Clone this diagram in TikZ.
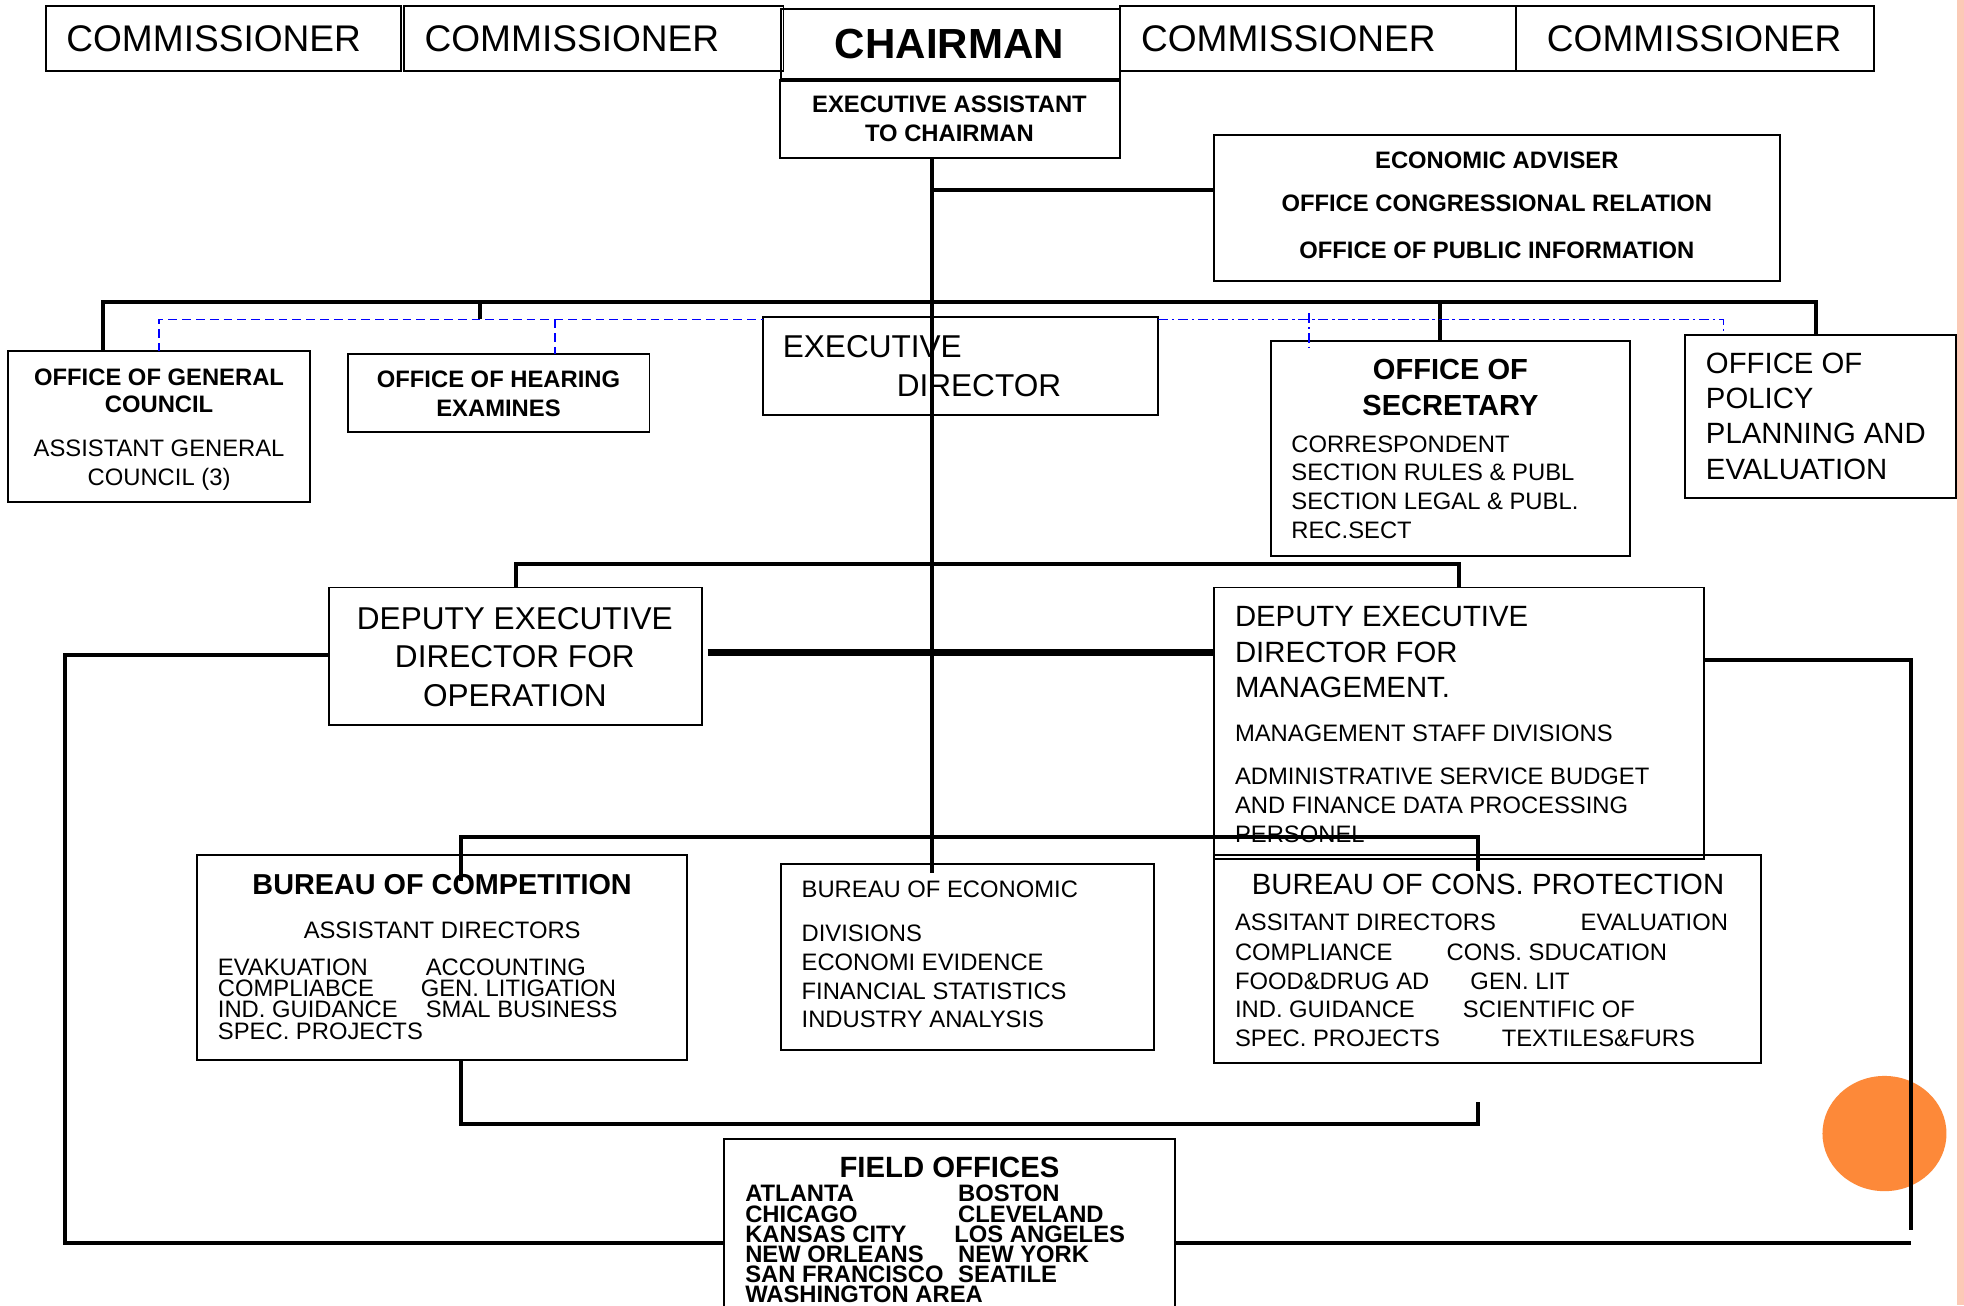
\documentclass[tikz,border=0pt]{standalone}
\usepackage{fontspec}
\setmainfont{Liberation Sans}
\usetikzlibrary{calc}
\definecolor{dotorange}{RGB}{253,137,57}
\definecolor{stripe}{RGB}{252,201,182}
\definecolor{dashblue}{RGB}{0,0,255}
\newcommand\fsz[1]{\fontsize{#1}{#1}\selectfont}
\newcommand\bx[5]{%
  \pgfmathsetmacro\bxw{(#4-#2)*0.5}%
  \pgfmathsetmacro\bxh{(#5-#3)*0.5}%
  \node[orgbox, minimum width=\bxw pt, minimum height=\bxh pt] (#1) at (#2,#3) {};}
\newcommand\twocol[3]{\makebox[#1][l]{#2}#3}
\begin{document}
\begin{tikzpicture}[x=0.5pt,y=-0.5pt,
  orgbox/.style={draw=black, line width=0.75pt, inner sep=0pt, outer sep=0pt, anchor=north west},
  txt/.style={inner sep=0pt, outer sep=0pt, text depth=0pt},
  reg/.style={txt, font=\fsz{9.5}},
  bld/.style={txt, font=\bfseries\fsz{9.5}},
  conn/.style={draw=black, line width=1.6pt},
  heavy/.style={draw=black, line width=2.6pt},
  blued/.style={draw=dashblue, line width=0.6pt, dash pattern=on 3.5pt off 2pt},
  bluedd/.style={draw=dashblue, line width=0.6pt, dash pattern=on 4pt off 1.5pt on 1pt off 1.5pt}]

\fill[white] (0,0) rectangle (1568,1042);
\useasboundingbox (0,0) rectangle (1568,1042);
\fill[stripe] (1562,0) rectangle (1568,1042);
\fill[dotorange] (1504.5,905) ellipse [x radius=24.75pt, y radius=23pt];

% ---------- boxes ----------
\bx{c1}{37}{5}{320}{57}
\bx{c2}{322.5}{5}{625.5}{57}
\bx{ch}{623.5}{7}{894}{64}
\bx{ea}{622.5}{64}{894}{126}
\bx{c3}{894}{5}{1210}{57}
\bx{c4}{1210}{5}{1496}{57}
\bx{eco}{969}{108}{1421}{224}
\bx{gc}{6.5}{280.5}{247.5}{401}
\bx{he}{277.5}{282.5}{518.5}{345}
\bx{ed}{609}{253}{924.5}{331.5}
\bx{sec}{1014.5}{272.5}{1301}{444}
\bx{pol}{1345.5}{267.5}{1561.5}{397.5}
\bx{dop}{262.5}{469}{560.5}{578.5}
\bx{dm}{969.5}{469}{1360.5}{686}
\bx{bc}{157}{682.5}{548.5}{846}
\bx{be}{623.5}{690}{921.5}{838.5}
\bx{bp}{969}{682.5}{1406}{849}
\bx{fo}{578}{909.5}{938}{1080}
\draw[line width=1.4pt] (ea.north west) -- (ea.north east);

% ---------- texts ----------
\node[txt, anchor=west, font=\fsz{14.8}] (c1t) at (53,31) {COMMISSIONER};
\node[txt, anchor=west, font=\fsz{14.8}] (c2t) at (339,31) {COMMISSIONER};
\node[txt, anchor=west, font=\fsz{14.8}] (c3t) at (911,31) {COMMISSIONER};
\node[txt, anchor=west, font=\fsz{14.8}] (c4t) at (1235,31) {COMMISSIONER};
\node[txt, font=\bfseries\fsz{16.8}] (cht) at (758,35) {CHAIRMAN};
\node[bld] (ea1) at (758,83) {EXECUTIVE ASSISTANT};
\node[bld] (ea2) at (758,106) {TO CHAIRMAN};

\node[bld] (eco1) at (1195,128) {ECONOMIC ADVISER};
\node[bld] (eco2) at (1195,162) {OFFICE CONGRESSIONAL RELATION};
\node[bld] (eco3) at (1195,200) {OFFICE OF PUBLIC INFORMATION};

\node[bld] (gc1) at (127,301) {OFFICE OF GENERAL};
\node[bld] (gc2) at (127,323) {COUNCIL};
\node[reg] (gc3) at (127,358) {ASSISTANT GENERAL};
\node[reg] (gc4) at (127,381) {COUNCIL (3)};

\node[bld] (he1) at (398,303) {OFFICE OF HEARING};
\node[bld] (he2) at (398,326) {EXAMINES};

\node[txt, anchor=west, font=\fsz{12.6}] (ed1) at (625,277) {EXECUTIVE};
\node[txt, anchor=west, font=\fsz{12.6}] (ed2) at (716,308) {DIRECTOR};

\node[txt, font=\bfseries\fsz{11.6}] (sec1) at (1158,295) {OFFICE OF};
\node[txt, font=\bfseries\fsz{11.6}] (sec2) at (1158,324) {SECRETARY};
\node[reg, anchor=west] (sec3) at (1031,355) {CORRESPONDENT};
\node[reg, anchor=west] (sec4) at (1031,377) {SECTION RULES \& PUBL};
\node[reg, anchor=west] (sec5) at (1031,400) {SECTION LEGAL \& PUBL.};
\node[reg, anchor=west] (sec6) at (1031,423) {REC.SECT};

\node[txt, anchor=west, font=\fsz{11.7}] (pol1) at (1362,290) {OFFICE OF};
\node[txt, anchor=west, font=\fsz{11.7}] (pol2) at (1362,318) {POLICY};
\node[txt, anchor=west, font=\fsz{11.7}] (pol3) at (1362,346) {PLANNING AND};
\node[txt, anchor=west, font=\fsz{11.7}] (pol4) at (1362,375) {EVALUATION};

\node[txt, font=\fsz{12.6}] (dop1) at (411,494) {DEPUTY EXECUTIVE};
\node[txt, font=\fsz{12.6}] (dop2) at (411,524) {DIRECTOR FOR};
\node[txt, font=\fsz{12.6}] (dop3) at (411,555) {OPERATION};

\node[txt, anchor=west, font=\fsz{11.7}] (dm1) at (986,492) {DEPUTY EXECUTIVE};
\node[txt, anchor=west, font=\fsz{11.7}] (dm2) at (986,521) {DIRECTOR FOR};
\node[txt, anchor=west, font=\fsz{11.7}] (dm3) at (986,549) {MANAGEMENT.};
\node[reg, anchor=west] (dm4) at (986,585) {MANAGEMENT STAFF DIVISIONS};
\node[reg, anchor=west] (dm5) at (986,620) {ADMINISTRATIVE SERVICE BUDGET};
\node[reg, anchor=west] (dm6) at (986,643) {AND FINANCE DATA PROCESSING};
\node[reg, anchor=west] (dm7) at (986,666) {PERSONEL};

\node[txt, font=\bfseries\fsz{11.5}] (bc1) at (353,706) {BUREAU OF COMPETITION};
\node[reg] (bc2) at (353,743) {ASSISTANT DIRECTORS};
\node[reg, anchor=west] (bc3) at (174,772) {\twocol{83pt}{EVAKUATION}{ACCOUNTING}};
\node[reg, anchor=west] (bc4) at (174,789) {\twocol{81pt}{COMPLIABCE}{GEN. LITIGATION}};
\node[reg, anchor=west] (bc5) at (174,806) {\twocol{83pt}{IND. GUIDANCE}{SMAL BUSINESS}};
\node[reg, anchor=west] (bc6) at (174,823) {SPEC. PROJECTS};

\node[reg, anchor=west] (be1) at (640,710) {BUREAU OF ECONOMIC};
\node[reg, anchor=west] (be2) at (640,745) {DIVISIONS};
\node[reg, anchor=west] (be3) at (640,768) {ECONOMI EVIDENCE};
\node[reg, anchor=west] (be4) at (640,791) {FINANCIAL STATISTICS};
\node[reg, anchor=west] (be5) at (640,814) {INDUSTRY ANALYSIS};

\node[txt, font=\fsz{11.7}] (bp1) at (1188,706) {BUREAU OF CONS. PROTECTION};
\node[reg, anchor=west] (bp2) at (986,736) {\twocol{138pt}{ASSITANT DIRECTORS}{EVALUATION}};
\node[reg, anchor=west] (bp3) at (986,760) {\twocol{84.5pt}{COMPLIANCE}{CONS. SDUCATION}};
\node[reg, anchor=west] (bp4) at (986,783) {\twocol{94pt}{FOOD\&DRUG AD}{GEN. LIT}};
\node[reg, anchor=west] (bp5) at (986,806) {\twocol{91pt}{IND. GUIDANCE}{SCIENTIFIC OF}};
\node[reg, anchor=west] (bp6) at (986,829) {\twocol{106.5pt}{SPEC. PROJECTS}{TEXTILES\&FURS}};

\node[txt, font=\bfseries\fsz{11.7}] (fo1) at (758,932) {FIELD OFFICES};
\node[bld, anchor=west] (fo2) at (595,953) {\twocol{85pt}{ATLANTA}{BOSTON}};
\node[bld, anchor=west] (fo3) at (595,969) {\twocol{85pt}{CHICAGO}{CLEVELAND}};
\node[bld, anchor=west] (fo4) at (595,985) {\twocol{83.5pt}{KANSAS CITY}{LOS ANGELES}};
\node[bld, anchor=west] (fo5) at (595,1001) {\twocol{85pt}{NEW ORLEANS}{NEW YORK}};
\node[bld, anchor=west] (fo6) at (595,1017) {\twocol{85pt}{SAN FRANCISCO}{SEATILE}};
\node[bld, anchor=west] (fo7) at (595,1033) {WASHINGTON AREA};

% ---------- connectors ----------
\coordinate (mvEnd) at (744,697);
\draw[conn] (ea.south -| mvEnd) -- (mvEnd);
\coordinate (jEco) at (744,152);
\draw[conn] (jEco) -- (jEco -| eco.west);

\coordinate (tbL) at (82,241);
\coordinate (tbR) at (1450,241);
\draw[conn] (gc.north -| tbL) -- (tbL) -- (tbR) -- (pol.north -| tbR);
\coordinate (s383) at (383,241);
\coordinate (yDash) at (0,255);
\draw[conn] (s383) -- (s383 |- yDash);
\coordinate (s1150) at (1150,241);
\draw[conn] (s1150) -- (sec.north -| s1150);

\coordinate (bL) at (127,255);
\draw[blued] (gc.north -| bL) -- (bL) -- (ed.west |- bL);
\coordinate (bH) at (443,255);
\draw[blued] (bH) -- (he.north -| bH);
\coordinate (bR) at (1376,255);
\draw[bluedd] (ed.east |- bR) -- (bR) -- (pol.north -| bR);
\coordinate (bS) at (1045,250);
\coordinate (bSe) at (1045,278);
\draw[bluedd] (bS) -- (bSe);

\coordinate (dL) at (412,450);
\coordinate (dR) at (1165,450);
\draw[conn] (dop.north -| dL) -- (dL) -- (dR) -- (dm.north -| dR);
\coordinate (hL) at (565,521);
\draw[heavy] (hL) -- (hL -| dm.west);

\coordinate (lT) at (52,523);
\coordinate (lB) at (52,992);
\draw[conn] (dop.west |- lT) -- (lT) -- (lB) -- (lB -| fo.west);
\coordinate (rT) at (1526,527);
\coordinate (rB) at (1526,982);
\coordinate (rBB) at (1526,992);
\draw[conn] (dm.east |- rT) -- (rT) -- (rB);
\draw[conn] (fo.east |- rBB) -- (rBB);

\coordinate (uL) at (368,668);
\coordinate (uR) at (1180,668);
\coordinate (uLe) at (368,703);
\coordinate (uRe) at (1180,695);
\draw[conn] (uLe) -- (uL) -- (uR) -- (uRe);
\coordinate (wL) at (368,897);
\coordinate (wR) at (1180,897);
\coordinate (wRe) at (1180,880);
\draw[conn] (bc.south -| wL) -- (wL) -- (wR) -- (wRe);
\end{tikzpicture}
\end{document}
